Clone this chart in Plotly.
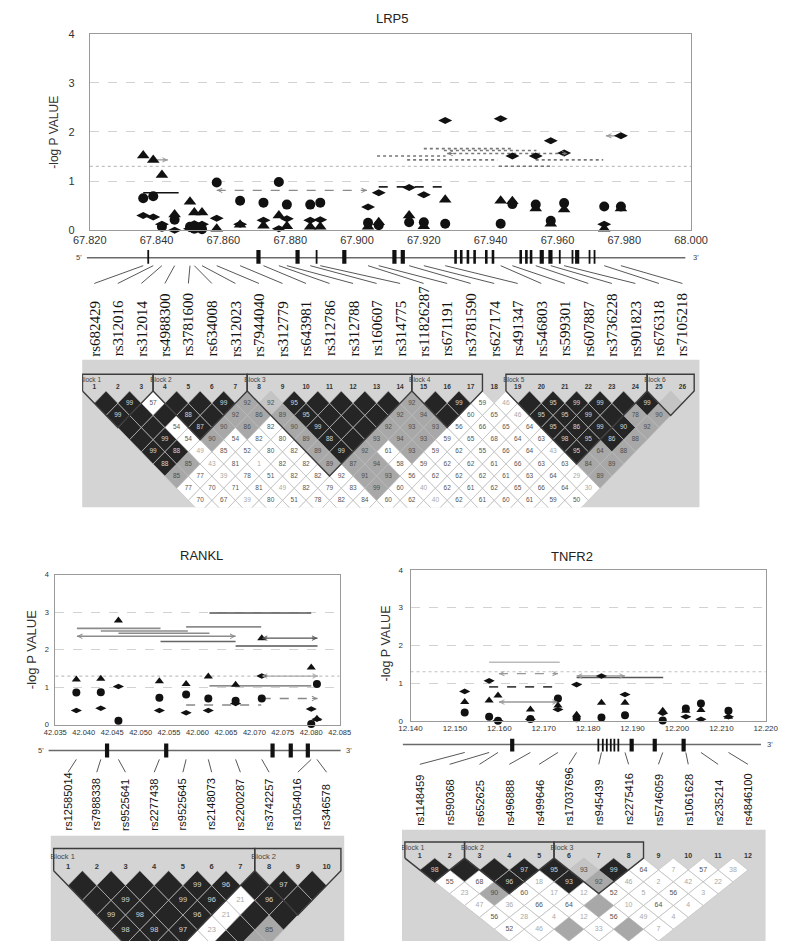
import plotly.graph_objects as go

W, H = 800, 952

# ======================= DATA =======================
Y_TICKS = [0, 1, 2, 3, 4]
THRESH = 1.3

# ---------------- LRP5 ----------------
LRP5_SNPS = ["rs682429", "rs312016", "rs312014", "rs4988300", "rs3781600", "rs634008",
             "rs312023", "rs7944040", "rs312779", "rs643981", "rs312786", "rs312788",
             "rs160607", "rs314775", "rs11826287", "rs671191", "rs3781590", "rs627174",
             "rs491347", "rs546803", "rs599301", "rs607887", "rs3736228", "rs901823",
             "rs676318", "rs7105218"]
LRP5_POS = [67.836, 67.839, 67.8416, 67.8454, 67.850, 67.8513, 67.8536, 67.858, 67.865,
            67.872, 67.8766, 67.879, 67.886, 67.889, 67.9033, 67.9065, 67.9156, 67.920,
            67.9264, 67.943, 67.9465, 67.9535, 67.958, 67.962, 67.974, 67.979]
LRP5_TRI = [1.52, 1.43, 1.12, 0.32, 0.58, 0.36, 0.36, 0.03, 0.11, 0.09, 0.30, 0.08, 0.07,
            0.07, 0.07, 0.16, 0.30, 0.08, 0.62, 0.60, 0.59, 0.44, 0.13, 0.42, 0.03, 0.44]
LRP5_CIRC = [0.65, 0.69, 0.07, 0.21, 0.07, 0.03, 0.02, 0.97, 0.60, 0.56, 0.98, 0.52, 0.52,
             0.56, 0.15, 0.10, 0.16, 0.16, 0.13, 0.13, 0.53, 0.52, 0.19, 0.55, 0.48, 0.48]
LRP5_DIAM = [0.30, 0.27, 0.12, 0.00, 0.03, 0.13, 0.12, 0.24, 0.12, 0.20, 0.03, 0.23, 0.20,
             0.21, 0.47, 0.76, 0.87, 0.72, 2.23, 2.27, 1.51, 1.51, 1.82, 1.57, 0.12, 1.92]
LRP5_XTICKS = [67.82, 67.84, 67.86, 67.88, 67.90, 67.92, 67.94, 67.96, 67.98, 68.00]
LRP5_SPAN_X0 = [67.836, 67.858, 67.839, 67.9065, 67.920, 67.926, 67.927, 67.906, 67.915,
                67.9535, 67.9425, 67.9745]
LRP5_SPAN_X1 = [67.8466, 67.903, 67.8434, 67.9255, 67.9464, 67.9537, 67.963, 67.9265,
                67.942, 67.9737, 67.958, 67.979]
LRP5_SPAN_Y = [0.76, 0.81, 1.43, 0.88, 1.66, 1.62, 1.56, 1.51, 1.43, 1.43, 1.30, 1.92]
LRP5_EXONS = [67.8375, 67.8705, 67.8822, 67.8879, 67.8962, 67.9112, 67.9137, 67.9295,
              67.9312, 67.9332, 67.9352, 67.9387, 67.9407, 67.9490, 67.9507, 67.9521,
              67.9553, 67.9579, 67.9607, 67.9645, 67.9659, 67.9696, 67.9711]
LRP5_EXON_KIND = ["thin", "thick", "thick", "thin", "thick", "thick", "thick", "mid", "mid",
                  "mid", "mid", "mid", "mid", "mid", "mid", "mid", "thick", "thick", "thin",
                  "thin", "thick", "thin", "thin"]
LRP5_LD = [
    ["B", "B99", "W57", "B", "B", "B99", "G92", "L92", "B95", "B", "B", "B", "B", "G92", "B",
     "B99", "W59", "W46", "B", "B95", "B99", "B99", "B", "B99", "L"],
    ["B99", "B", "B", "B88", "B", "G92", "G86", "G89", "B95", "B", "B", "B", "G92", "G94", "B",
     "W60", "W65", "W46", "B95", "B95", "B99", "B", "G78", "G90"],
    ["B", "B", "W54", "B87", "G90", "G86", "W82", "G90", "B99", "B", "B", "G92", "G93", "G93",
     "W56", "W66", "W65", "W64", "B95", "B86", "B99", "B90", "G92"],
    ["B", "B99", "W54", "G90", "W54", "W82", "W80", "G89", "B88", "B", "G93", "G94", "G93",
     "W59", "W65", "W68", "W64", "W63", "B98", "B95", "B86", "G88"],
    ["B99", "B88", "W49", "W85", "W52", "W80", "W82", "G89", "B99", "G92", "W61", "G93", "W59",
     "W62", "W55", "W66", "W64", "W43", "B95", "G64", "G88"],
    ["B88", "G85", "W43", "W81", "W1", "W82", "W82", "G89", "G87", "G94", "W58", "W59", "W62",
     "W62", "W61", "W66", "W63", "W63", "G84", "G89"],
    ["G85", "W77", "W39", "W78", "W51", "W82", "W82", "W92", "G91", "G93", "W56", "W62", "W62",
     "W62", "W61", "W63", "W64", "W29", "G89"],
    ["W77", "W70", "W71", "W81", "W49", "W82", "W79", "W83", "G99", "W60", "W40", "W62", "W61",
     "W62", "W65", "W66", "W64", "W30"],
    ["W70", "W67", "W39", "W80", "W51", "W78", "W82", "W84", "W60", "W62", "W40", "W62", "W61",
     "W60", "W61", "W59", "W50"],
    ["W", "W", "W", "W", "W", "W", "W", "W", "W", "W", "W", "W", "W", "W", "W", "W"],
]
LRP5_BLOCKS = [(1, 3), (4, 7), (8, 14), (15, 17), (19, 24), (25, 26)]

# ---------------- RANKL ----------------
RANKL_SNPS = ["rs12585014", "rs7988338", "rs9525641", "rs2277438", "rs9525645", "rs2148073",
              "rs2200287", "rs3742257", "rs1054016", "rs346578"]
RANKL_POS = [42.0387, 42.0430, 42.0461, 42.0533, 42.0580, 42.0619, 42.0667, 42.0713,
             42.0800, 42.0810]
RANKL_TRI = [1.21, 1.23, 2.78, 1.16, 1.09, 1.29, 1.07, 2.31, 1.53, 0.16]
RANKL_CIRC = [0.86, 0.87, 0.11, 0.72, 0.81, 0.70, 0.64, 0.70, 0.02, 1.09]
RANKL_DIAM = [0.38, 0.44, 1.02, 0.38, 0.32, 0.38, 0.57, 1.30, 0.42, 0.15]
RANKL_XTICKS = [42.035, 42.040, 42.045, 42.050, 42.055, 42.060, 42.065, 42.070, 42.075,
                42.080, 42.085]
RANKL_SPAN_X0 = [42.0388, 42.0430, 42.0461, 42.0388, 42.0535, 42.0580, 42.0621, 42.0667,
                 42.0713, 42.0713, 42.0621, 42.0713, 42.0580]
RANKL_SPAN_X1 = [42.0535, 42.0583, 42.0621, 42.0667, 42.0667, 42.0712, 42.0800, 42.0811,
                 42.0811, 42.0812, 42.0800, 42.0811, 42.0712]
RANKL_SPAN_Y = [2.57, 2.50, 2.44, 2.36, 2.22, 2.61, 2.98, 2.10, 2.31, 1.30, 1.04, 0.70, 0.53]
RANKL_EXONS = [42.0441, 42.0545, 42.0732, 42.0764, 42.0794]
RANKL_EXON_KIND = ["thick", "thick", "thick", "thick", "thick"]
RANKL_LD = [
    ["B", "B", "B", "B", "B99", "B96", "B", "B97", "B"],
    ["B", "B99", "B", "B99", "B96", "W21", "B96", "B"],
    ["B99", "B98", "B", "B96", "W21", "B", "B"],
    ["B98", "B98", "B97", "W23", "B", "G85"],
    ["B", "B", "W", "B", "G"],
]
RANKL_BLOCKS = [(1, 7), (8, 10)]

# ---------------- TNFR2 ----------------
TNFR2_SNPS = ["rs1148459", "rs590368", "rs652625", "rs496888", "rs499646", "rs17037696",
              "rs945439", "rs2275416", "rs5746059", "rs1061628", "rs235214", "rs4846100"]
TNFR2_POS = [12.1522, 12.1577, 12.1597, 12.1670, 12.1732, 12.1774, 12.1830, 12.1883,
             12.1968, 12.2020, 12.2054, 12.2116]
TNFR2_TRI = [0.50, 0.54, 0.67, 0.30, 0.41, 0.16, 0.48, 0.48, 0.27, 0.27, 0.29, 0.11]
TNFR2_CIRC = [0.22, 0.11, 0.00, 0.05, 0.59, 0.07, 0.09, 0.15, 0.01, 0.33, 0.46, 0.27]
TNFR2_DIAM = [0.78, 1.06, 0.00, 0.04, 0.30, 0.96, 1.19, 0.70, 0.20, 0.11, 0.04, 0.11]
TNFR2_XTICKS = [12.14, 12.15, 12.16, 12.17, 12.18, 12.19, 12.20, 12.21, 12.22]
TNFR2_SPAN_X0 = [12.1577, 12.1599, 12.1577, 12.1599, 12.1774, 12.1774]
TNFR2_SPAN_X1 = [12.1736, 12.1732, 12.1732, 12.1732, 12.1969, 12.1883]
TNFR2_SPAN_Y = [1.55, 1.25, 0.90, 0.50, 1.15, 1.19]
TNFR2_EXONS = [12.1629, 12.1823, 12.1833, 12.1842, 12.1851, 12.1859, 12.1868, 12.1898,
               12.1950, 12.2015]
TNFR2_EXON_KIND = ["thick", "thin", "thin", "thin", "thin", "thin", "thin", "thick",
                   "thick", "thick"]
TNFR2_LD = [
    ["B98", "B", "B", "B97", "B95", "L93", "B99", "W64", "W7", "W57", "W38"],
    ["W55", "W68", "B96", "W18", "B93", "G92", "W46", "W2", "W42", "W22"],
    ["W23", "G90", "W60", "W17", "W12", "W52", "W5", "W56", "W3"],
    ["W47", "W36", "W66", "W64", "G", "W10", "W64", "W4"],
    ["W56", "W28", "W4", "W12", "W56", "W49", "W4"],
    ["W52", "W46", "G", "W33", "G", "W7"],
    ["W", "W", "W", "W", "W"],
]
TNFR2_BLOCKS = [(1, 2), (3, 5), (6, 8)]

# ======================= STYLE / LAYOUT =======================
SANS = "Liberation Sans, Arial, sans-serif"
SERIF = "Liberation Serif, Times New Roman, serif"
LD_BG = "#d4d4d4"
CELL_FILL = {"B": "#252525", "G": "#a8a8a8", "L": "#c4c4c4", "W": "#ffffff"}
EXON_W = {"thin": 1.8, "mid": 2.6, "thick": 4.2}

LRP5_SPAN_STYLE = [("solid", "#111", 1.5, ""), ("dash", "#8a8a8a", 1.3, "both"),
                   ("solid", "#999", 1.2, "right"), ("dash", "#222", 1.8, ""),
                   ("dot", "#777", 1.6, ""), ("dot", "#777", 1.6, ""),
                   ("dot", "#777", 1.6, "both"), ("dot", "#777", 1.6, ""),
                   ("dot", "#777", 1.6, ""), ("dot", "#777", 1.6, ""),
                   ("dot", "#777", 1.6, ""), ("solid", "#999", 1.2, "left")]
RANKL_SPAN_STYLE = [("solid", "#8c8c8c", 1.6, ""), ("solid", "#8c8c8c", 1.6, ""),
                    ("solid", "#8c8c8c", 1.6, ""), ("solid", "#8c8c8c", 1.6, "both"),
                    ("solid", "#666", 1.4, ""), ("solid", "#8c8c8c", 1.6, ""),
                    ("solid", "#555", 1.4, ""), ("solid", "#555", 1.4, ""),
                    ("solid", "#555", 1.4, "both"), ("solid", "#aaa", 1.3, "both"),
                    ("solid", "#666", 1.3, ""), ("dash", "#888", 1.4, "right"),
                    ("dash", "#888", 1.4, "")]
TNFR2_SPAN_STYLE = [("solid", "#bbbbbb", 1.5, ""), ("dash", "#999", 1.4, "both"),
                    ("dash", "#444", 1.6, ""), ("solid", "#999", 1.3, "both"),
                    ("solid", "#555", 1.4, ""), ("solid", "#999", 1.3, "both")]

traces = []
annotations = []
axes = {}
naxes = [0]


def dom_x(a, b):
    return [a / W, b / W]


def dom_y(top, bot):
    return [1 - bot / H, 1 - top / H]


def add_axes(xdom, ydom, xr, yr, xstyle=None, ystyle=None):
    naxes[0] += 1
    s = "" if naxes[0] == 1 else str(naxes[0])
    xa = dict(domain=xdom, range=xr, anchor="y" + s, fixedrange=True, visible=False)
    ya = dict(domain=ydom, range=yr, anchor="x" + s, fixedrange=True, visible=False)
    if xstyle:
        xa.update(xstyle)
    if ystyle:
        ya.update(ystyle)
    axes["xaxis" + s] = xa
    axes["yaxis" + s] = ya
    return "x" + s, "y" + s


def arrow(xa, ya, x, y, ax, color):
    return dict(x=x, y=y, xref=xa, yref=ya, ax=ax, ay=0, showarrow=True, arrowhead=5,
                arrowsize=0.9, arrowwidth=1, arrowcolor=color, text="")


def paper_text(px, py, text, size, angle=0, family=SANS, color="#222"):
    annotations.append(dict(x=px / W, y=1 - py / H, xref="paper", yref="paper", text=text,
                            showarrow=False, textangle=angle, xanchor="center",
                            yanchor="middle", font=dict(size=size, family=family, color=color)))


def scatter_panel(box, xr, xticks, pos, tri, circ, diam, sx0, sx1, sy, styles, msz, tfs, stand):
    x0, y0, x1, y1 = box
    xstyle = dict(visible=True, showline=True, mirror=True, linecolor="#9a9a9a", linewidth=1,
                  showgrid=False, zeroline=False, tickvals=xticks,
                  ticktext=["%.3f" % t for t in xticks], ticks="",
                  tickfont=dict(size=tfs, color="#333", family=SANS))
    ystyle = dict(visible=True, showline=True, mirror=True, linecolor="#9a9a9a", linewidth=1,
                  showgrid=True, gridcolor="#d2d2d2", griddash="dash", gridwidth=1,
                  zeroline=False, tickvals=Y_TICKS, ticks="", ticklabelstandoff=stand,
                  tickfont=dict(size=tfs, color="#333", family=SANS))
    xa, ya = add_axes(dom_x(x0, x1), dom_y(y0, y1), xr, [0, 4], xstyle, ystyle)
    traces.append(go.Scatter(x=xr, y=[THRESH, THRESH], mode="lines",
                             line=dict(color="#c0c0c0", width=1.2, dash="dot"),
                             xaxis=xa, yaxis=ya, hoverinfo="skip"))
    for a, b, yv, (dash, color, width, arr) in zip(sx0, sx1, sy, styles):
        traces.append(go.Scatter(x=[a, b], y=[yv, yv], mode="lines",
                                 line=dict(color=color, width=width, dash=dash),
                                 xaxis=xa, yaxis=ya, hoverinfo="skip"))
        if arr in ("both", "right"):
            annotations.append(arrow(xa, ya, b, yv, -7, color))
        if arr in ("both", "left"):
            annotations.append(arrow(xa, ya, a, yv, 7, color))
    for vals, sym, sz in ((circ, "circle", msz[1]), (tri, "triangle-up", msz[0]),
                          (diam, "diamond-wide", msz[2])):
        traces.append(go.Scatter(x=pos, y=vals, mode="markers", cliponaxis=False,
                                 marker=dict(symbol=sym, size=sz, color="#111",
                                             line=dict(width=0)),
                                 xaxis=xa, yaxis=ya, hoverinfo="skip"))
    return xa, ya


def gene_panel(pbox, sbox, xr, line_px, line_y, exons, kinds, exon_y, pos, names,
               conn_y, lab_px, lab_y, font, five_px, three_px):
    px0, py0, px1, py1 = pbox
    sx0, sx1 = sbox

    def g(px):
        return xr[0] + (px - sx0) / (sx1 - sx0) * (xr[1] - xr[0])

    xa, ya = add_axes(dom_x(px0, px1), dom_y(py0, py1), [g(px0), g(px1)], [-py1, -py0])
    traces.append(go.Scatter(x=[g(line_px[0]), g(line_px[1])], y=[-line_y, -line_y],
                             mode="lines", line=dict(color="#6a6a6a", width=1.5),
                             xaxis=xa, yaxis=ya, hoverinfo="skip"))
    for kind in ("thin", "mid", "thick"):
        xs, ys = [], []
        for e, k in zip(exons, kinds):
            if k == kind:
                xs += [e, e, None]
                ys += [-exon_y[0], -exon_y[1], None]
        if xs:
            traces.append(go.Scatter(x=xs, y=ys, mode="lines",
                                     line=dict(color="#111", width=EXON_W[kind]),
                                     xaxis=xa, yaxis=ya, hoverinfo="skip"))
    xs, ys = [], []
    for p, lp in zip(pos, lab_px):
        xs += [p, g(lp), None]
        ys += [-conn_y[0], -conn_y[1], None]
    traces.append(go.Scatter(x=xs, y=ys, mode="lines", line=dict(color="#444", width=0.9),
                             xaxis=xa, yaxis=ya, hoverinfo="skip"))
    for nm, lp in zip(names, lab_px):
        annotations.append(dict(x=g(lp), y=-lab_y, xref=xa, yref=ya, text=nm, showarrow=False,
                                textangle=-90, xanchor="center", yanchor="bottom",
                                font=font))
    for t, p in (("5'", five_px), ("3'", three_px)):
        annotations.append(dict(x=g(p), y=-line_y, xref=xa, yref=ya, text=t, showarrow=False,
                                xanchor="center", yanchor="middle",
                                font=dict(size=7.5, family=SANS, color="#444")))


def ld_panel(rows, blocks, n, box, c1, d, hh, ys, block_top, label_py, num_py, fs):
    bx0, by0, bx1, by1 = box
    xr = [1 + (bx0 - c1) / d, 1 + (bx1 - c1) / d]
    yr = [-(by1 - ys) / hh, (ys - by0) / hh]
    xa, ya = add_axes(dom_x(bx0, bx1), dom_y(by0, by1), xr, yr)
    traces.append(go.Scatter(x=[xr[0], xr[1], xr[1], xr[0], xr[0]],
                             y=[yr[0], yr[0], yr[1], yr[1], yr[0]], mode="lines",
                             fill="toself", fillcolor=LD_BG, line=dict(width=0),
                             xaxis=xa, yaxis=ya, hoverinfo="skip"))
    polys = {c: ([], []) for c in CELL_FILL}
    texts = {}
    for k, row in enumerate(rows, start=1):
        for idx, tok in enumerate(row):
            i = idx + 1
            j = i + k
            col, val = tok[0], tok[1:]
            cx, cy = (i + j) / 2.0, -k
            polys[col][0].extend([cx - 0.5, cx, cx + 0.5, cx, cx - 0.5, None])
            polys[col][1].extend([cy, cy + 1, cy, cy - 1, cy, None])
            if val:
                if col == "B":
                    tc = "#d6d6d6"
                elif col in ("G", "L"):
                    tc = "#4d4d4d"
                else:
                    tc = "#555555" if int(val) >= 50 else "#a9a9a9"
                texts.setdefault(tc, ([], [], []))
                texts[tc][0].append(cx)
                texts[tc][1].append(cy)
                texts[tc][2].append(val)
    for col in ("W", "G", "L", "B"):
        xs, ys_ = polys[col]
        if xs:
            traces.append(go.Scatter(x=xs, y=ys_, mode="lines", fill="toself",
                                     fillcolor=CELL_FILL[col],
                                     line=dict(color="#bcbcbc", width=0.6),
                                     xaxis=xa, yaxis=ya, hoverinfo="skip"))
    for tc, (xs, ys_, tt) in texts.items():
        traces.append(go.Scatter(x=xs, y=ys_, text=tt, mode="text",
                                 textfont=dict(size=fs, color=tc, family=SANS),
                                 xaxis=xa, yaxis=ya, hoverinfo="skip"))
    top = (ys - block_top) / hh
    bxs, bys = [], []
    for s, e in blocks:
        bxs += [s - 0.5, s - 0.5, e + 0.5, e + 0.5, (s + e) / 2.0, s - 0.5, None]
        bys += [0, top, top, 0, -(e - s) - 1, 0, None]
    traces.append(go.Scatter(x=bxs, y=bys, mode="lines", line=dict(color="#3c3c3c", width=1.4),
                             xaxis=xa, yaxis=ya, hoverinfo="skip"))
    ly = (ys - label_py) / hh
    traces.append(go.Scatter(x=[s - 0.62 for s, e in blocks], y=[ly] * len(blocks),
                             text=["Block %d" % (b + 1) for b in range(len(blocks))],
                             mode="text", textposition="middle right",
                             textfont=dict(size=fs, color="#444", family=SANS),
                             xaxis=xa, yaxis=ya, hoverinfo="skip"))
    ny = (ys - num_py) / hh
    traces.append(go.Scatter(x=list(range(1, n + 1)), y=[ny] * n,
                             text=["<b>%d</b>" % c for c in range(1, n + 1)], mode="text",
                             textfont=dict(size=fs, color="#333", family=SANS),
                             xaxis=xa, yaxis=ya, hoverinfo="skip"))


# ----------------------- LRP5 -----------------------
L_C1, L_D = 80.7, 24.57
scatter_panel((76, 28, 704, 227), [67.82, 68.0], LRP5_XTICKS, LRP5_POS, LRP5_TRI, LRP5_CIRC,
              LRP5_DIAM, LRP5_SPAN_X0, LRP5_SPAN_X1, LRP5_SPAN_Y, LRP5_SPAN_STYLE,
              (11, 10, 10), 11, 12)
gene_panel((0, 240, 800, 362), (76, 704), [67.82, 68.0], (73, 698), 255, LRP5_EXONS,
           LRP5_EXON_KIND, (247, 261), LRP5_POS, LRP5_SNPS, (263, 281),
           [L_C1 + c * L_D for c in range(len(LRP5_SNPS))], 357,
           dict(size=15, family=SERIF, color="#111"), 65, 709)
ld_panel(LRP5_LD, LRP5_BLOCKS, 26, (68, 358, 713, 508), L_C1, L_D, 12.3, 390, 373, 379.5,
         386, 6.5)
paper_text(392, 13, "LRP5", 13)
paper_text(39, 128, "-log P VALUE", 12, angle=-90, color="#333")

# ----------------------- RANKL -----------------------
R_C1, R_D = 53.3, 30.0
scatter_panel((40, 576, 337, 728), [42.035, 42.085], RANKL_XTICKS, RANKL_POS, RANKL_TRI,
              RANKL_CIRC, RANKL_DIAM, RANKL_SPAN_X0, RANKL_SPAN_X1, RANKL_SPAN_Y,
              RANKL_SPAN_STYLE, (8, 8, 8), 7.5, 4)
gene_panel((0, 740, 400, 840), (40, 337), [42.035, 42.085], (33, 338), 754, RANKL_EXONS,
           RANKL_EXON_KIND, (747, 761), RANKL_POS, RANKL_SNPS, (763, 776),
           [R_C1 + c * R_D for c in range(len(RANKL_SNPS))], 837,
           dict(size=11, family=SANS, color="#111"), 25, 347)
ld_panel(RANKL_LD, RANKL_BLOCKS, 10, (35, 840, 342, 947), R_C1, R_D, 15.0, 875.7, 853.3, 862,
         871.7, 7.5)
paper_text(193, 557, "RANKL", 13)
paper_text(15, 652, "-log P VALUE", 13, angle=-90, color="#333")

# ----------------------- TNFR2 -----------------------
T_C1, T_D = 420.7, 31.15
scatter_panel((411, 571, 782, 724), [12.14, 12.22], TNFR2_XTICKS, TNFR2_POS, TNFR2_TRI,
              TNFR2_CIRC, TNFR2_DIAM, TNFR2_SPAN_X0, TNFR2_SPAN_X1, TNFR2_SPAN_Y,
              TNFR2_SPAN_STYLE, (8, 8, 8), 8, 5)
gene_panel((400, 735, 800, 835), (411, 782), [12.14, 12.22], (403, 777), 748, TNFR2_EXONS,
           TNFR2_EXON_KIND, (742, 755), TNFR2_POS, TNFR2_SNPS, (756, 768),
           [T_C1 + c * T_D for c in range(len(TNFR2_SNPS))], 832,
           dict(size=11, family=SANS, color="#111"), 398, 786)
ld_panel(TNFR2_LD, TNFR2_BLOCKS, 12, (402, 834, 782, 947), T_C1, T_D, 12.0, 863, 846.7, 853.3,
         860.7, 7)
paper_text(580, 558, "TNFR2", 13)
paper_text(385, 646, "-log P VALUE", 12.5, angle=-90, color="#333")

fig = go.Figure(data=traces)
fig.update_layout(width=W, height=H, margin=dict(l=0, r=0, t=0, b=0), showlegend=False,
                  paper_bgcolor="white", plot_bgcolor="rgba(0,0,0,0)",
                  annotations=annotations, font=dict(family=SANS), **axes)
fig.write_html("out.html", include_plotlyjs=True, config={"staticPlot": True},
               post_script="document.body.style.margin='0';")
